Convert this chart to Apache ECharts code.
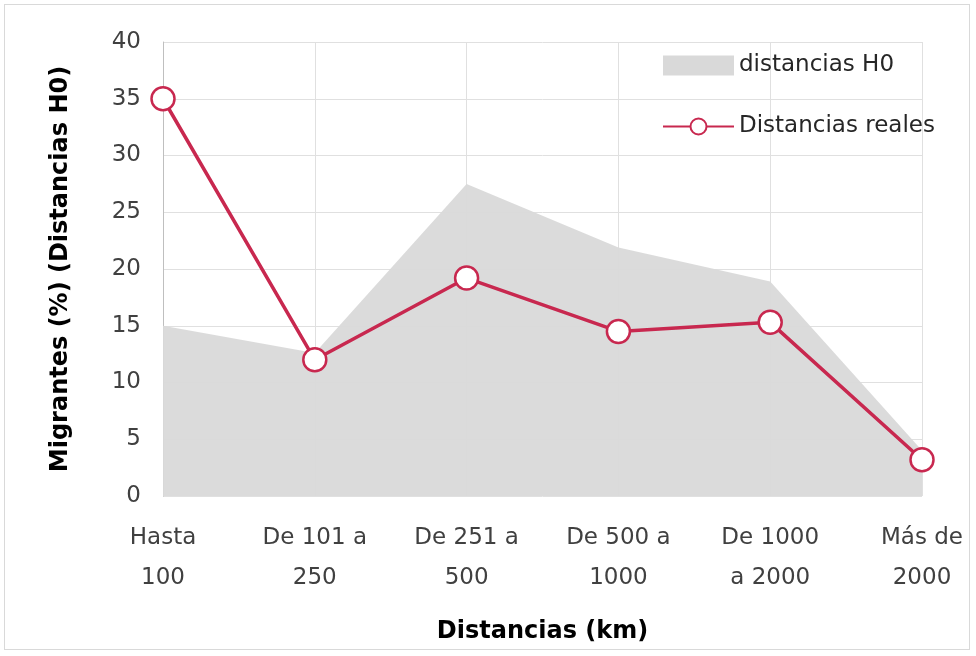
<!DOCTYPE html>
<html><head><meta charset="utf-8">
<script src="https://cdn.jsdelivr.net/npm/echarts@6/dist/echarts.min.js"></script>
<style>html,body{margin:0;padding:0;background:#fff}#c{width:976px;height:656px}
#frame{position:absolute;left:4px;top:4px;width:966px;height:646px;border:1.5px solid #d9d9d9;box-sizing:border-box;pointer-events:none}</style>
</head><body><div id="c"></div><div id="frame"></div>
<script>
const categories = ["Hasta\n100", "De 101 a\n250", "De 251 a\n500", "De 500 a\n1000", "De 1000\na 2000", "Más de\n2000"];
const distanciasH0 = [15, 12.6, 27.5, 21.9, 18.9, 4];
const distanciasReales = [35, 12, 19.2, 14.5, 15.3, 3.2];
const yTicks = { min: 0, max: 40, interval: 5 };

const font = '"DejaVu Sans", "Open Sans", sans-serif';
const chart = echarts.init(document.getElementById('c'));
chart.setOption({
  animation: false,
  textStyle: { fontFamily: font },
  grid: { left: 163, right: 54, top: 42, bottom: 160 },
  legend: {
    left: 662, top: 54, padding: 0, orient: 'vertical', itemGap: 38,
    itemWidth: 71, itemHeight: 20,
    textStyle: { fontSize: 23, color: '#262626', fontFamily: font },
    data: [
      { name: 'distancias H0', icon: 'rect', itemStyle: { color: '#d9d9d9' } },
      { name: 'Distancias reales' }
    ]
  },
  xAxis: {
    type: 'category', data: categories, boundaryGap: false,
    name: 'Distancias (km)', nameLocation: 'middle', nameGap: 124,
    nameTextStyle: { fontSize: 24, fontWeight: 'bold', color: '#000', fontFamily: font },
    axisLine: { show: false }, axisTick: { show: false },
    axisLabel: { fontSize: 23, color: '#404040', lineHeight: 40, margin: 22, fontFamily: font },
    splitLine: { show: true, lineStyle: { color: '#e0e0e0', width: 1 } }
  },
  yAxis: {
    type: 'value', min: yTicks.min, max: yTicks.max, interval: yTicks.interval,
    name: 'Migrantes (%) (Distancias H0)', nameLocation: 'middle', nameGap: 90,
    nameTextStyle: { fontSize: 24, fontWeight: 'bold', color: '#000', fontFamily: font },
    axisLine: { show: true, lineStyle: { color: '#bfbfbf' } }, axisTick: { show: false },
    axisLabel: { fontSize: 23, color: '#404040', margin: 22, fontFamily: font },
    splitLine: { show: true, lineStyle: { color: '#e0e0e0', width: 1 } }
  },
  series: [
    {
      name: 'distancias H0', type: 'line', data: distanciasH0,
      symbol: 'none', lineStyle: { width: 0 },
      itemStyle: { color: '#d9d9d9' },
      areaStyle: { color: '#d9d9d9', opacity: 0.95 }, z: 1
    },
    {
      name: 'Distancias reales', type: 'line', data: distanciasReales,
      symbol: 'circle', symbolSize: 23,
      lineStyle: { color: '#c8284f', width: 3.5 },
      itemStyle: { color: '#ffffff', borderColor: '#c8284f', borderWidth: 2.5 }, z: 3
    }
  ]
});
</script></body></html>
